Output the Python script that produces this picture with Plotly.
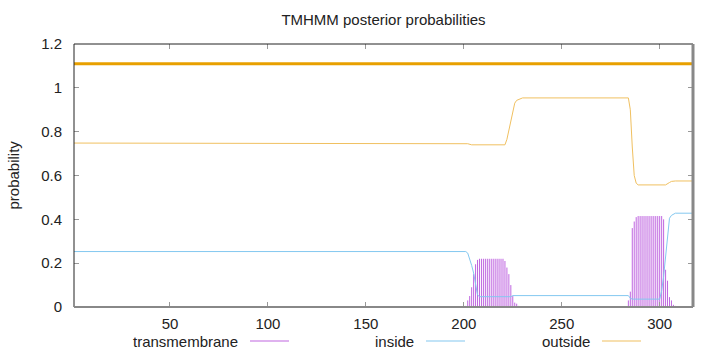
import plotly.graph_objects as go

# ---------------- data ----------------
seq_len = 317

# posterior probability of "inside" (breakpoints: residue, probability)
inside_pos = [1, 201, 202, 203, 204, 205, 206, 207, 208, 224, 225, 284, 285, 286,
              300, 301, 302, 303, 304, 305, 306, 308, 317]
inside_val = [0.253, 0.253, 0.246, 0.222, 0.19, 0.155, 0.095, 0.055, 0.047, 0.047, 0.052,
              0.052, 0.04, 0.036, 0.036, 0.075, 0.14, 0.23, 0.34, 0.405, 0.418, 0.428, 0.428]

# posterior probability of "outside"
outside_pos = [1, 201, 202, 204, 221, 222, 223, 224, 225, 226, 227, 229, 230, 284, 285,
               286, 287, 288, 289, 303, 304, 305, 306, 308, 317]
outside_val = [0.748, 0.748, 0.745, 0.74, 0.74, 0.765, 0.805, 0.85, 0.9, 0.93, 0.943,
               0.951, 0.954, 0.954, 0.9, 0.73, 0.6, 0.565, 0.557, 0.557, 0.561, 0.568,
               0.573, 0.575, 0.575]

# posterior probability of "transmembrane" (impulses, residues with non-zero value)
tm_pos = [141, 143, 145, 147, 149, 151,
          201, 202, 203, 204, 205, 206, 207, 208, 209, 210, 211, 212, 213, 214, 215, 216,
          217, 218, 219, 220, 221, 222, 223, 224, 225, 226, 227, 228,
          284, 285, 286, 287, 288, 289, 290, 291, 292, 293, 294, 295, 296, 297, 298, 299,
          300, 301, 302, 303, 304, 305, 306, 307, 308]
tm_val = [0.004, 0.004, 0.004, 0.004, 0.004, 0.004,
          0.005, 0.03, 0.05, 0.09, 0.15, 0.195, 0.215, 0.22, 0.22, 0.22, 0.22, 0.22, 0.22,
          0.22, 0.22, 0.22, 0.22, 0.22, 0.22, 0.22, 0.21, 0.18, 0.15, 0.10, 0.05, 0.02,
          0.015, 0.005,
          0.03, 0.07, 0.36, 0.39, 0.41, 0.415, 0.415, 0.415, 0.415, 0.415, 0.415, 0.415,
          0.415, 0.415, 0.415, 0.415, 0.415, 0.415, 0.40, 0.17, 0.12, 0.045, 0.03, 0.01,
          0.005]

# predicted topology line drawn at the top
topo_start = [1]
topo_end = [seq_len]
topo_level = [1.11]

x_ticks = [50, 100, 150, 200, 250, 300]
y_ticks = [0, 0.2, 0.4, 0.6, 0.8, 1.0, 1.2]

# ---------------- styling ----------------
C_TM = "#bf66e0"
C_IN = "#84c8f0"
C_OUT = "#f0c060"
C_TOPO = "#e8a000"
FONT = "Liberation Sans, Arial, sans-serif"

W, H = 720, 352
L, R, T, B = 74, 27, 44, 45
pw, ph = W - L - R, H - T - B


def px(xp):
    return (xp - L) / pw


def py(yp):
    return (H - B - yp) / ph


# impulses: vertical segments from 0 to each value, separated by gaps
imp_x, imp_y = [], []
for p, v in zip(tm_pos, tm_val):
    imp_x += [p, p, None]
    imp_y += [0, v, None]

fig = go.Figure()

fig.add_trace(go.Scatter(x=imp_x, y=imp_y, mode="lines", line=dict(color=C_TM, width=1),
                         connectgaps=False, showlegend=False, name="transmembrane"))
fig.add_trace(go.Scatter(x=inside_pos, y=inside_val, mode="lines", line=dict(color=C_IN, width=1),
                         showlegend=False, name="inside"))
fig.add_trace(go.Scatter(x=outside_pos, y=outside_val, mode="lines", line=dict(color=C_OUT, width=1),
                         showlegend=False, name="outside"))
for s, e, lv in zip(topo_start, topo_end, topo_level):
    fig.add_trace(go.Scatter(x=[s, e], y=[lv, lv], mode="lines", line=dict(color=C_TOPO, width=3),
                             showlegend=False, hoverinfo="skip"))

shapes = [
    dict(type="line", xref="paper", yref="paper", x0=0, x1=1, y0=1, y1=1, line=dict(color="#222", width=1)),
    dict(type="line", xref="paper", yref="paper", x0=0, x1=0, y0=0, y1=1, line=dict(color="#222", width=1)),
    dict(type="line", xref="paper", yref="paper", x0=0, x1=1, y0=0, y1=0, line=dict(color="#888", width=2)),
    dict(type="line", xref="paper", yref="paper", x0=1, x1=1, y0=0, y1=1, line=dict(color="#888", width=3)),
]

annotations = [
    dict(text="probability", xref="paper", yref="paper", x=px(13), y=py(175.5), textangle=-90,
         xanchor="center", yanchor="middle",
         showarrow=False, font=dict(size=15, color="#222", family=FONT)),
]

legend_items = [("transmembrane", C_TM, 240, 250), ("inside", C_IN, 416, 426), ("outside", C_OUT, 592, 602)]
for name, col, text_right, line_left in legend_items:
    annotations.append(dict(text=name, xref="paper", yref="paper", x=px(text_right), y=py(341),
                            xanchor="right", yanchor="middle", showarrow=False,
                            font=dict(size=15, color="#222", family=FONT)))
    shapes.append(dict(type="line", xref="paper", yref="paper", x0=px(line_left), x1=px(line_left + 39),
                       y0=py(341), y1=py(341), line=dict(color=col, width=1.2)))

fig.update_layout(
    width=W, height=H,
    margin=dict(l=L, r=R, t=T, b=B),
    paper_bgcolor="white", plot_bgcolor="white",
    font=dict(family=FONT, size=15, color="#222"),
    title=dict(text="TMHMM posterior probabilities", x=0.5, xref="paper", y=1 - 20 / H,
               yref="container", xanchor="center", yanchor="middle",
               font=dict(size=15, color="#222", family=FONT)),
    shapes=shapes,
    annotations=annotations,
    xaxis=dict(range=[1, seq_len], tickvals=x_ticks, ticks="inside", ticklen=5, tickcolor="#999",
               showgrid=False, zeroline=False, showline=True, linecolor="rgba(0,0,0,0)",
               mirror="ticks", ticklabelstandoff=3),
    yaxis=dict(range=[0, 1.2], tickvals=y_ticks, ticks="inside", ticklen=5, tickcolor="#999",
               showgrid=False, zeroline=False, showline=True, linecolor="rgba(0,0,0,0)",
               mirror="ticks", ticklabelstandoff=8),
)

fig.write_html("out.html")
